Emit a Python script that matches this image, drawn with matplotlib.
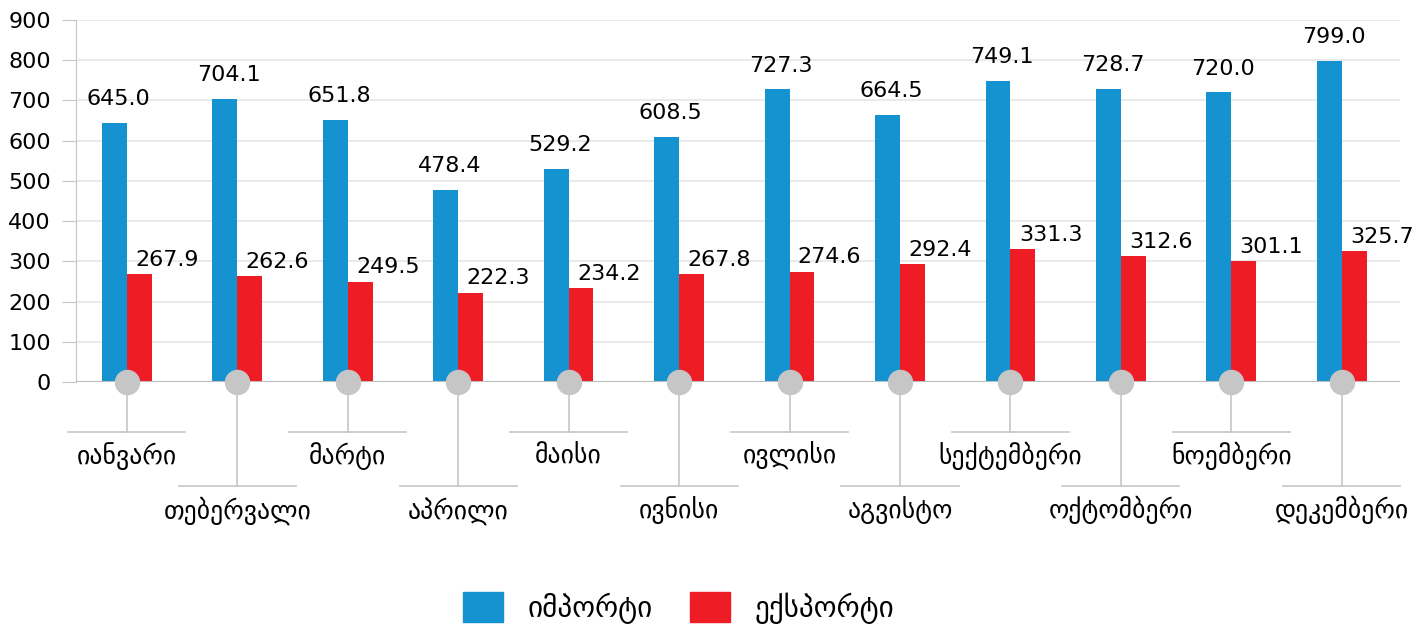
import numpy as np
import matplotlib.pyplot as plt
from matplotlib.patches import Patch

months = ["იანვარი", "თებერვალი", "მარტი", "აპრილი", "მაისი", "ივნისი",
          "ივლისი", "აგვისტო", "სექტემბერი", "ოქტომბერი", "ნოემბერი", "დეკემბერი"]
imports = [645.0, 704.1, 651.8, 478.4, 529.2, 608.5, 727.3, 664.5, 749.1, 728.7, 720.0, 799.0]
exports = [267.9, 262.6, 249.5, 222.3, 234.2, 267.8, 274.6, 292.4, 331.3, 312.6, 301.1, 325.7]
series_names = ["იმპორტი", "ექსპორტი"]

BLUE = "#1592d0"
RED = "#ee1c25"
GRAY = "#c6c6c6"

plt.rcParams['font.family'] = ['DejaVu Sans']

fig = plt.figure(figsize=(14.26, 6.25), dpi=100)
ax = fig.add_axes([0.0533, 0.3888, 0.9287, 0.5792])

x = np.arange(len(months))
w = 0.225
ax.bar(x - w / 2, imports, w, color=BLUE, zorder=3)
ax.bar(x + w / 2, exports, w, color=RED, zorder=3)

for i in range(len(months)):
    ax.annotate("%.1f" % imports[i], (x[i] - w / 2, imports[i]), xytext=(3, 10),
                textcoords="offset points", ha="center", va="bottom", fontsize=16)
    ax.annotate("%.1f" % exports[i], (x[i], exports[i]), xytext=(6, 3),
                textcoords="offset points", ha="left", va="bottom", fontsize=16)

ax.set_xlim(-0.46, 11.53)
ax.set_ylim(0, 900)
ax.set_yticks(range(0, 901, 100))
ax.tick_params(axis="y", labelsize=16, length=10, color=GRAY, pad=8)
ax.tick_params(axis="x", bottom=False, labelbottom=False)
ax.grid(axis="y", color="#e6e6e6", lw=1.2, zorder=0)
ax.set_axisbelow(True)
for s in ["top", "right", "bottom"]:
    ax.spines[s].set_visible(False)
ax.spines["left"].set_color(GRAY)
ax.axhline(0, color="#bdbdbd", lw=1.5, zorder=4)

# category markers and staggered labels
for i in range(len(months)):
    lvl = -124 if i % 2 == 0 else -259
    ax.plot([x[i], x[i]], [0, lvl], color=GRAY, lw=1.2, clip_on=False, zorder=1)
    ax.plot([x[i] - 0.53, x[i] + 0.53], [lvl, lvl], color=GRAY, lw=1.2, clip_on=False)
    ax.scatter([x[i]], [0], s=300, color=GRAY, zorder=5, clip_on=False)
    ax.text(x[i], lvl - 80, months[i], ha="center", va="baseline", fontsize=18.5)

handles = [Patch(color=BLUE), Patch(color=RED)]
fig.legend(handles, series_names, loc="center", bbox_to_anchor=(0.476, 0.027), ncol=2,
           frameon=False, fontsize=21, handlelength=1.35, handleheight=1.2,
           handletextpad=0.85, columnspacing=1.3)

fig.savefig("out.png", dpi=100)
